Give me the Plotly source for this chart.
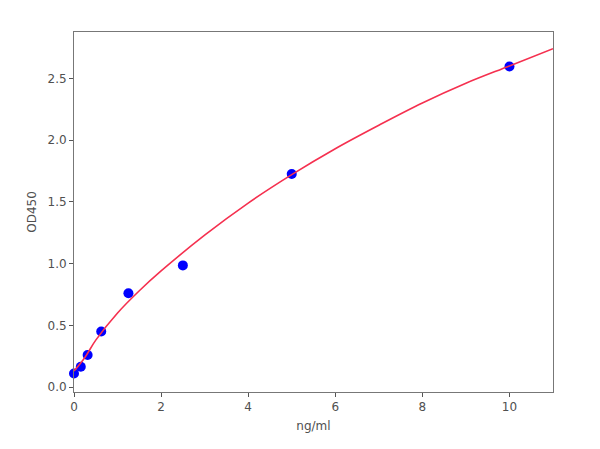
import plotly.graph_objects as go

# standard points
conc = [0, 0.156, 0.3125, 0.625, 1.25, 2.5, 5, 10]
od450 = [0.11, 0.165, 0.26, 0.45, 0.76, 0.985, 1.725, 2.595]

# fitted curve
curve_x = [0, 0.25, 0.5, 1, 1.5, 2, 3, 4, 5, 6, 7, 8, 9, 10, 11]
curve_y = [0.13, 0.24, 0.38, 0.60, 0.78, 0.94, 1.23, 1.49, 1.72, 1.93, 2.12, 2.30, 2.46, 2.60, 2.74]

fig = go.Figure()
fig.add_trace(go.Scatter(
    x=conc, y=od450, mode="markers",
    marker=dict(color="#0000ff", size=10, line=dict(width=0)),
    cliponaxis=False, showlegend=False,
))
fig.add_trace(go.Scatter(
    x=curve_x, y=curve_y, mode="lines", line_shape="spline",
    line=dict(color="#f5304f", width=1.6),
    showlegend=False,
))

font = dict(family="DejaVu Sans", size=12, color="#505050")
axis_style = dict(
    showgrid=False, zeroline=False, showline=True, mirror=True,
    linecolor="#777777", linewidth=1, ticks="outside", ticklen=4,
    tickcolor="#555555", tickfont=font,
)
fig.update_xaxes(range=[0, 11], tickvals=[0, 2, 4, 6, 8, 10],
                 title=dict(text="ng/ml", font=font, standoff=8),
                 **axis_style)
fig.update_yaxes(range=[-0.04, 2.875], tickvals=[0, 0.5, 1.0, 1.5, 2.0, 2.5], tickformat=".1f",
                 title=dict(text="OD450", font=font, standoff=8),
                 **axis_style)
# page body has an 8px margin, so the figure is sized and placed to make up for it
fig.update_layout(
    width=592, height=441,
    margin=dict(l=66, r=47, t=24, b=57),
    plot_bgcolor="white", paper_bgcolor="white",
)
fig.write_html("out.html")
